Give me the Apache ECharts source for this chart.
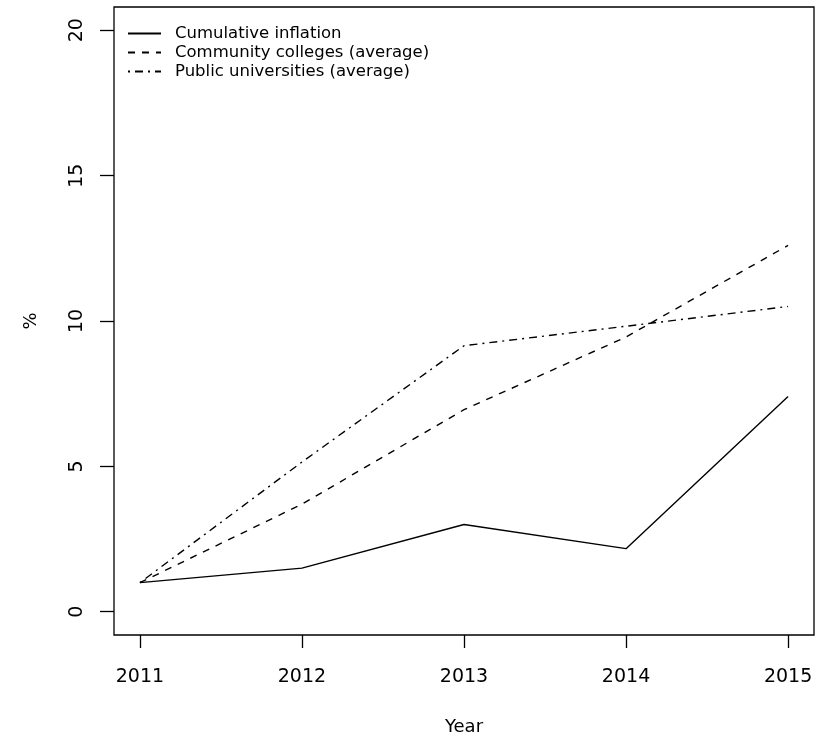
<!DOCTYPE html>
<html><head><meta charset="utf-8">
<script src="https://cdn.jsdelivr.net/npm/echarts@6/dist/echarts.min.js"></script>
<style>html,body{margin:0;padding:0;background:#fff}#c{width:817px;height:738px}</style>
</head><body><div id="c"></div>
<script>
const years = [2011, 2012, 2013, 2014, 2015];
const yTicks = [0, 5, 10, 15, 20];
const inflation = [1.0, 1.5, 3.0, 2.17, 7.4];
const community = [1.0, 3.7, 6.95, 9.45, 12.6];
const publicUni = [1.0, 5.15, 9.15, 9.82, 10.5];
const seriesNames = ['Cumulative inflation', 'Community colleges (average)', 'Public universities (average)'];

const FONT = 'DejaVu Sans';
const chart = echarts.init(document.getElementById('c'));
function pts(arr){ return years.map((y,i)=>[y, arr[i]]); }
const mk = (name, data, type) => ({
  name, type:'line', data: pts(data), showSymbol:false, symbol:'none', silent:true,
  lineStyle:{color:'#000', width:1.4, type}, itemStyle:{color:'#000'}
});
chart.setOption({
  animation:false,
  backgroundColor:'#fff',
  grid:{left:114, right:3, top:7, bottom:103, show:true, borderColor:'#000', borderWidth:1.3,
    backgroundColor:'transparent', containLabel:false, outerBoundsMode:'none'},
  xAxis:{type:'value', min:2010.84, max:2015.16, name:'Year', nameLocation:'middle', nameGap:83,
    nameTextStyle:{fontFamily:FONT, fontSize:18, color:'#000'},
    axisLine:{show:false, onZero:false}, splitLine:{show:false},
    axisTick:{show:true, length:13, customValues: years, lineStyle:{color:'#000', width:1.3}},
    axisLabel:{customValues: years, margin:33, fontFamily:FONT, fontSize:19, color:'#000', formatter:v=>String(v)}},
  yAxis:{type:'value', min:-0.8, max:20.8, name:'%', nameLocation:'middle', nameGap:74, nameRotate:90,
    nameTextStyle:{fontFamily:FONT, fontSize:18, color:'#000'},
    axisLine:{show:false, onZero:false}, splitLine:{show:false},
    axisTick:{show:true, length:14, customValues: yTicks, lineStyle:{color:'#000', width:1.3}},
    axisLabel:{customValues: yTicks, rotate:90, margin:27, fontFamily:FONT, fontSize:19, color:'#000', formatter:v=>String(v)}},
  legend:{orient:'vertical', left:127, top:24, itemWidth:33, itemHeight:19, itemGap:0, padding:0,
    itemStyle:{color:'transparent', opacity:0, borderWidth:0},
    textStyle:{fontFamily:FONT, fontSize:16.5, color:'#000', padding:[0,0,0,9], lineHeight:19}, data:seriesNames},
  series:[
    mk(seriesNames[0], inflation, 'solid'),
    mk(seriesNames[1], community, [7,7]),
    mk(seriesNames[2], publicUni, [2,5,8,5])
  ]
});
</script></body></html>
